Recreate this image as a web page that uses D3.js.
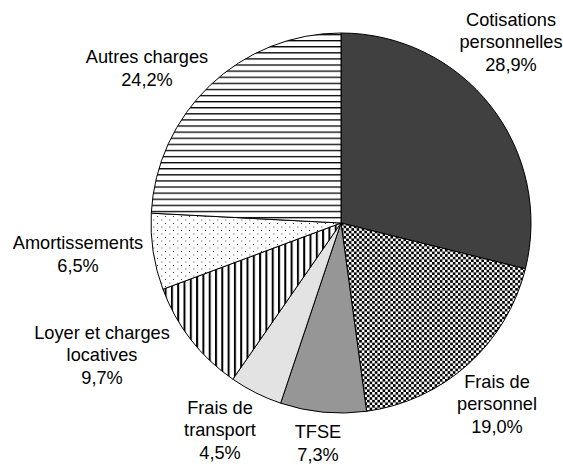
<!DOCTYPE html>
<html>
<head>
<meta charset="utf-8">
<script src="https://cdn.jsdelivr.net/npm/d3@7"></script>
<style>
  body { margin: 0; background: #fff; }
  text { font-family: "Liberation Sans", Arial, sans-serif; font-size: 18.2px; fill: #000; }
</style>
</head>
<body>
<div id="chart"></div>
<script>
const categories = [
  ["Cotisations", "personnelles"],
  ["Frais de", "personnel"],
  ["TFSE"],
  ["Frais de", "transport"],
  ["Loyer et charges", "locatives"],
  ["Amortissements"],
  ["Autres charges"]
];
const values = [28.9, 19.0, 7.3, 4.5, 9.7, 6.5, 24.2];
const valueLabels = ["28,9%", "19,0%", "7,3%", "4,5%", "9,7%", "6,5%", "24,2%"];

// label block centres (Excel placed them by hand)
const labelPos = [[511, 42], [497, 404], [318, 443], [220, 430], [102, 355], [78, 254], [147, 68]];

const width = 563;
const height = 465;
const cx = 341, cy = 223, radius = 190;
const lineH = 22.5;

const svg = d3.select("#chart")
  .append("svg")
  .attr("width", width)
  .attr("height", height);

const defs = svg.append("defs");

// checkerboard
const chk = defs.append("pattern").attr("id", "p-check")
  .attr("patternUnits", "userSpaceOnUse").attr("width", 5.2).attr("height", 5.2);
chk.append("rect").attr("width", 5.2).attr("height", 5.2).attr("fill", "#fff");
chk.append("rect").attr("width", 2.6).attr("height", 2.6).attr("fill", "#000");
chk.append("rect").attr("x", 2.6).attr("y", 2.6).attr("width", 2.6).attr("height", 2.6).attr("fill", "#000");

// vertical stripes
const vs = defs.append("pattern").attr("id", "p-vert")
  .attr("patternUnits", "userSpaceOnUse").attr("width", 6.3).attr("height", 10);
vs.append("rect").attr("width", 6.3).attr("height", 10).attr("fill", "#fff");
vs.append("rect").attr("width", 2).attr("height", 10).attr("fill", "#000");

// sparse dots
const dt = defs.append("pattern").attr("id", "p-dots")
  .attr("patternUnits", "userSpaceOnUse").attr("width", 8).attr("height", 7);
dt.append("rect").attr("width", 8).attr("height", 7).attr("fill", "#fff");
dt.append("rect").attr("x", 0).attr("y", 0).attr("width", 1).attr("height", 1).attr("fill", "#333");
dt.append("rect").attr("x", 4).attr("y", 3.5).attr("width", 1.4).attr("height", 1).attr("fill", "#777");

// horizontal lines
const hs = defs.append("pattern").attr("id", "p-horiz")
  .attr("patternUnits", "userSpaceOnUse").attr("width", 10).attr("height", 6.1);
hs.append("rect").attr("width", 10).attr("height", 6.1).attr("fill", "#fff");
hs.append("rect").attr("width", 10).attr("height", 1.3).attr("fill", "#000");

const fills = ["#404040", "url(#p-check)", "#969696", "#e3e3e3", "url(#p-vert)", "url(#p-dots)", "url(#p-horiz)"];

const pie = d3.pie().sort(null).value(d => d);
const arc = d3.arc().innerRadius(0).outerRadius(radius);

const g = svg.append("g").attr("transform", `translate(${cx},${cy})`);

g.selectAll("path.slice")
  .data(pie(values))
  .join("path")
  .attr("class", "slice")
  .attr("d", arc)
  .attr("fill", (d, i) => fills[i])
  .attr("stroke", "#000")
  .attr("stroke-width", 1);

// labels
categories.forEach((lines, i) => {
  const all = lines.concat([valueLabels[i]]);
  const [x, y] = labelPos[i];
  const top = y - (all.length - 1) * lineH / 2;
  const t = svg.append("text")
    .attr("text-anchor", "middle");
  all.forEach((s, k) => {
    t.append("tspan")
      .attr("x", x)
      .attr("y", top + k * lineH)
      .attr("dy", "0.35em")
      .text(s);
  });
});
</script>
</body>
</html>
